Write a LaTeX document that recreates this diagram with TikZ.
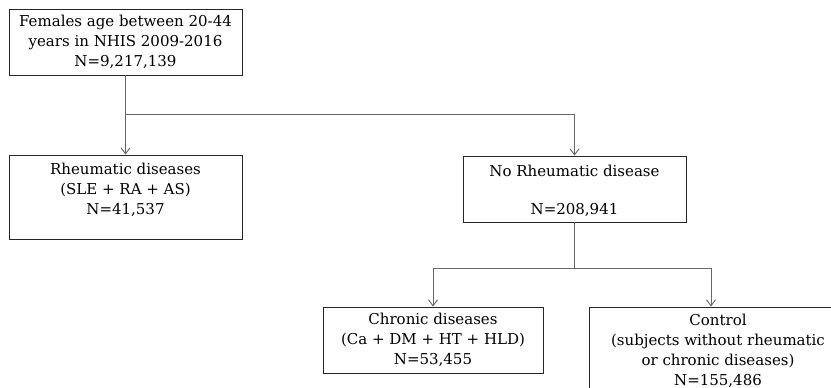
\documentclass[tikz,border=0pt]{standalone}
\usepackage{fontspec}
\setmainfont{DejaVu Serif}
\usetikzlibrary{arrows.meta}
\tikzset{
  box/.style={draw=black!85, line width=0.9pt, rectangle, inner sep=0pt},
  txt/.style={align=center, inner sep=0pt, font=\fontsize{15}{20}\selectfont, text=black},
  conn/.style={draw=black!60, line width=0.9pt},
  arr/.style={conn, -{Straight Barb[length=6pt,width=9pt]}}
}
\begin{document}
\begin{tikzpicture}[x=1pt,y=-1pt]
\clip (0,0) rectangle (831,388);
\fill[white] (0,0) rectangle (831,388);
% boxes
\node[box, minimum width=233, minimum height=66] (top) at (125.5,42) {};
\node[txt] (toptxt) at (top.center) {Females age between 20-44\\years in NHIS 2009-2016\\N=9,217,139};
\node[box, minimum width=233, minimum height=84] (rheum) at (125.5,197) {};
\node[txt] (rheumtxt) at (125.5,190) {Rheumatic diseases\\(SLE + RA + AS)\\N=41,537};
\node[box, minimum width=223, minimum height=66] (norh) at (574.5,189) {};
\node[txt] (norhtxt) at (574.5,191) {No Rheumatic disease\\[18pt]N=208,941};
\node[box, minimum width=220, minimum height=66] (chron) at (433,340) {};
\node[txt] (chrontxt) at (chron.center) {Chronic diseases\\(Ca + DM + HT + HLD)\\N=53,455};
\node[box, minimum width=256, minimum height=96] (ctrl) at (717,355) {};
\node[txt] (ctrltxt) at (718,351) {Control\\(subjects without rheumatic\\or chronic diseases)\\N=155,486};
% connectors
\coordinate (j1) at (top.south |- 0,114);
\coordinate (j2) at (norh.north |- 0,114);
\draw[conn] (top.south) -- (j1);
\draw[arr] (j1) -- (rheum.north);
\draw[arr] (j1) -- (j2) -- (norh.north);
\coordinate (j3) at (norh.south |- 0,268);
\coordinate (j4) at (433,268);
\coordinate (j5) at (711,268);
\draw[conn] (norh.south) -- (j3);
\draw[arr] (j3) -- (j4) -- (chron.north -| j4);
\draw[arr] (j3) -- (j5) -- (ctrl.north -| j5);
\end{tikzpicture}
\end{document}
